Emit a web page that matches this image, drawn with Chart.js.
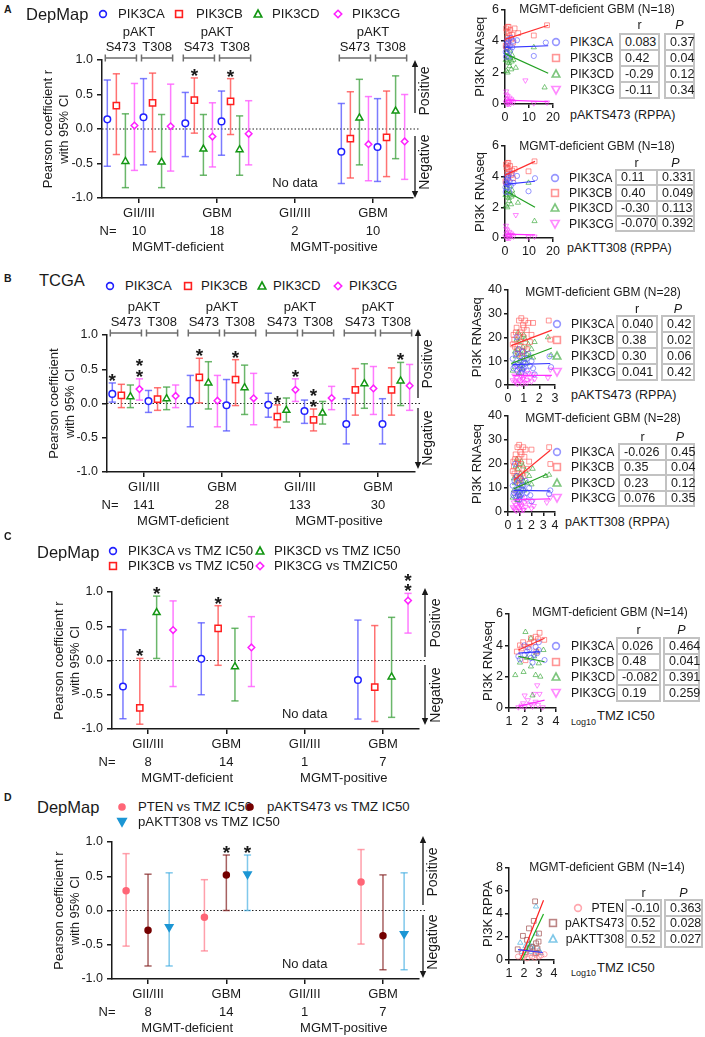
<!DOCTYPE html>
<html>
<head>
<meta charset="utf-8">
<title>PI3K / pAKT correlation panels</title>
<script src="https://cdn.jsdelivr.net/npm/chart.js@4.4.1/dist/chart.umd.min.js"></script>
<style>
  html, body { margin: 0; padding: 0; background: #fff; }
  #page { position: relative; width: 705px; height: 1037px; overflow: hidden;
          font-family: "Liberation Sans", Arial, Helvetica, sans-serif; color: #1a1a1a; }
  #page canvas { position: absolute; }
  .t { position: absolute; white-space: nowrap; line-height: 1; }
  .cell { position: absolute; box-sizing: border-box; border: 2px solid #c2c2c2; font-size: 12.5px;
          line-height: 1; display: flex; align-items: center; padding-left: 4px; white-space: nowrap; }
  .ic { position: absolute; width: 14px; height: 14px; }
</style>
</head>
<body>
<div id="page">
  <canvas id="chartA"></canvas>
  <canvas id="chartB"></canvas>
  <canvas id="chartC"></canvas>
  <canvas id="chartD"></canvas>
  <canvas id="sc1"></canvas>
  <canvas id="sc2"></canvas>
  <canvas id="sc3"></canvas>
  <canvas id="sc4"></canvas>
  <canvas id="sc5"></canvas>
  <canvas id="sc6"></canvas>
</div>
<script>
const FONT = '"Liberation Sans", Arial, Helvetica, sans-serif';

// ---------- forest plot data (rows = series, cols = the 4 groups) ----------
const groupLabels = ['GII/III', 'GBM', 'GII/III', 'GBM'];
const mgmtLabels = ['MGMT-deficient', 'MGMT-positive'];
const genes = ['PIK3CA', 'PIK3CB', 'PIK3CD', 'PIK3CG'];
const sites = ['S473', 'T308'];
const rTicks = [-1, -0.5, 0, 0.5, 1];

// A  DepMap
const nA = ['10', '18', '2', '10'];
const rA473  = [[0.14, 0.083, null, -0.33], [0.34, 0.42, null, -0.14], [-0.47, -0.29, null, 0.16], [0.05, -0.11, null, -0.22]];
const loA473 = [[-0.54, -0.40, null, -0.79], [-0.37, -0.06, null, -0.71], [-0.85, -0.67, null, -0.52], [-0.60, -0.55, null, -0.75]];
const hiA473 = [[0.71, 0.53, null, 0.37], [0.80, 0.74, null, 0.54], [0.22, 0.21, null, 0.72], [0.66, 0.38, null, 0.47]];
const rA308  = [[0.17, 0.11, null, -0.26], [0.38, 0.40, null, -0.12], [-0.48, -0.30, null, 0.26], [0.04, -0.07, null, -0.18]];
const loA308 = [[-0.52, -0.38, null, -0.76], [-0.33, -0.08, null, -0.69], [-0.85, -0.67, null, -0.43], [-0.61, -0.52, null, -0.73]];
const hiA308 = [[0.73, 0.55, null, 0.44], [0.81, 0.73, null, 0.55], [0.21, 0.19, null, 0.77], [0.65, 0.41, null, 0.50]];
const starsA = [[1, 1, 1], [1, 5, 1]];   // [group, series, number of stars]

// B  TCGA
const nB = ['141', '28', '133', '30'];
const rB473  = [[0.14, 0.04, -0.02, -0.30], [0.12, 0.38, -0.19, 0.20], [0.10, 0.30, -0.10, 0.29], [0.21, 0.041, 0.20, 0.22]];
const loB473 = [[0.02, -0.34, -0.20, -0.59], [-0.06, 0.01, -0.35, -0.17], [-0.06, -0.08, -0.27, -0.07], [0.05, -0.34, 0.03, -0.16]];
const hiB473 = [[0.30, 0.41, 0.15, 0.07], [0.28, 0.66, -0.02, 0.51], [0.27, 0.61, 0.08, 0.58], [0.36, 0.41, 0.36, 0.54]];
const rB308  = [[0.035, -0.026, -0.11, -0.30], [0.065, 0.35, -0.24, 0.20], [0.07, 0.23, -0.14, 0.33], [0.11, 0.076, 0.08, 0.26]];
const loB308 = [[-0.13, -0.40, -0.29, -0.59], [-0.10, -0.03, -0.40, -0.17], [-0.09, -0.16, -0.30, -0.03], [-0.06, -0.31, -0.09, -0.10]];
const hiB308 = [[0.19, 0.35, 0.05, 0.07], [0.23, 0.64, -0.08, 0.52], [0.24, 0.56, 0.03, 0.60], [0.27, 0.44, 0.25, 0.57]];
const starsB = [[0, 0, 1], [0, 3, 2], [1, 1, 1], [1, 5, 1], [2, 1, 1], [2, 3, 1], [2, 5, 2], [3, 6, 1]];

// C  DepMap, PI3K vs TMZ IC50
const nC = ['8', '14', '1', '7'];
const legendC = ['PIK3CA vs TMZ IC50', 'PIK3CB vs TMZ IC50', 'PIK3CD vs TMZ IC50', 'PIK3CG vs TMZIC50'];
const rC  = [[-0.38, 0.024, null, -0.285], [-0.69, 0.47, null, -0.39], [0.70, -0.09, null, -0.24], [0.445, 0.19, null, 0.875]];
const loC = [[-0.85, -0.50, null, -0.855], [-0.93, -0.07, null, -0.89], [0.03, -0.59, null, -0.83], [-0.38, -0.38, null, 0.40]];
const hiC = [[0.45, 0.55, null, 0.59], [0.03, 0.80, null, 0.51], [0.94, 0.47, null, 0.63], [0.87, 0.64, null, 0.98]];
const starsC = [[0, 1, 1], [0, 2, 1], [1, 1, 1], [3, 3, 2]];

// D  DepMap, PTEN / pAKT vs TMZ IC50
const nD = ['8', '14', '1', '7'];
const legendD = ['PTEN vs TMZ IC50', 'pAKTS473 vs TMZ IC50', 'pAKTT308 vs TMZ IC50'];
const rD  = [[0.29, -0.10, null, 0.415], [-0.29, 0.52, null, -0.37], [-0.24, 0.53, null, -0.34]];
const loD = [[-0.52, -0.59, null, -0.49], [-0.81, 0.0, null, -0.865], [-0.81, 0.0, null, -0.865]];
const hiD = [[0.83, 0.45, null, 0.89], [0.53, 0.81, null, 0.52], [0.55, 0.81, null, 0.55]];
const starsD = [[1, 1, 1], [1, 2, 1]];

// ---------- small scatter panels ----------
const s1CA = [[0.3,3.3],[0.5,3.6],[0.6,4.0],[0.8,3.2],[1.0,3.8],[1.2,3.5],[1.5,4.1],[1.8,3.0],[2.0,3.7],[2.2,3.4],[2.5,4.2],[3.0,3.6],[3.5,4.0],[5.0,4.05],[12,3.05],[17,3.9],[0.4,3.0],[1.3,3.9]];
const s1CB = [[0.3,3.7],[0.5,4.8],[0.7,4.6],[0.9,4.2],[1.1,4.9],[1.3,4.0],[1.6,4.5],[1.9,4.3],[2.2,4.7],[2.6,4.1],[3.0,4.4],[3.3,3.9],[4.0,4.8],[5.5,4.5],[12,4.35],[17.5,5.0],[0.6,3.6],[1.5,4.9]];
const s1CD = [[0.3,2.8],[0.5,2.1],[0.7,3.3],[0.9,2.7],[1.1,2.0],[1.4,3.0],[1.7,2.6],[2.0,3.4],[2.3,2.9],[2.6,2.2],[3.0,3.1],[3.5,2.8],[4.5,2.3],[12,3.6],[16.5,1.05],[0.8,3.5],[1.9,2.4],[2.8,2.7]];
const s1CG = [[0.3,0.1],[0.5,0.8],[0.7,0.3],[0.9,0.0],[1.1,0.5],[1.3,0.2],[1.6,0.1],[1.9,0.4],[2.2,0.0],[2.6,0.3],[3.0,0.2],[3.5,0.1],[8.5,1.5],[12,0.05],[17.5,0.1],[0.6,0.6],[1.4,0.0],[2.4,0.2]];
const s1Fit = [[[0,3.6],[18,3.7]], [[0,4.1],[18,5.0]], [[0,3.2],[18,1.95]], [[0,0.25],[18,0.15]]];

const s2CA = [[0.2,3.3],[0.4,3.6],[0.6,4.0],[0.8,3.2],[1.0,3.8],[1.2,3.5],[1.5,4.1],[1.8,3.0],[2.0,3.7],[2.4,3.4],[2.8,4.2],[3.5,3.6],[5.0,4.05],[9.8,3.05],[12.5,3.9],[0.3,3.0],[1.3,3.9],[0.9,3.5]];
const s2CB = [[0.2,3.7],[0.4,4.8],[0.6,4.6],[0.8,4.2],[1.0,4.9],[1.2,4.0],[1.5,4.5],[1.8,4.3],[2.1,4.7],[2.5,4.1],[3.0,4.4],[3.3,3.9],[4.0,4.5],[9.8,4.35],[12.3,5.0],[0.5,3.6],[1.4,4.9],[0.9,4.6]];
const s2CD = [[0.2,2.8],[0.4,2.1],[0.6,3.3],[0.8,2.7],[1.0,2.0],[1.3,3.0],[1.6,2.6],[1.9,3.4],[2.2,2.9],[2.5,2.2],[3.0,3.1],[3.5,2.8],[5.4,2.3],[9.8,3.6],[12.3,1.1],[0.7,3.5],[1.7,2.4],[2.7,2.7]];
const s2CG = [[0.2,0.1],[0.4,0.8],[0.6,0.3],[0.8,0.0],[1.0,0.5],[1.2,0.2],[1.5,0.1],[1.8,0.4],[2.1,0.0],[2.5,0.3],[3.0,0.2],[3.5,0.1],[4.5,1.5],[9.8,0.05],[12.3,0.1],[0.5,0.6],[1.3,0.0],[2.3,0.2]];
const s2Fit = [[[0,3.5],[12.5,3.7]], [[0,4.1],[12.5,5.0]], [[0,3.1],[12.5,2.0]], [[0,0.25],[12.5,0.2]]];

const s3CA = [[0.3,11],[0.45,8],[0.55,20],[0.6,6],[0.65,9],[0.7,12],[0.75,7],[0.8,10],[0.85,5],[0.9,8],[0.95,14],[1.0,7],[1.05,11],[1.1,9],[1.2,6],[1.3,13],[1.4,8],[1.5,10],[1.7,4.5],[0.5,13],[0.7,15],[0.9,6.5],[1.0,9.5],[1.2,11],[2.65,12],[2.75,7.5],[0.35,7],[1.6,7]];
const s3CB = [[0.3,17],[0.4,19],[0.5,22],[0.55,24],[0.6,15],[0.7,27],[0.75,21],[0.8,18],[0.85,28],[0.9,14],[0.95,25],[1.0,20],[1.05,16],[1.1,27],[1.2,23],[1.3,26],[1.4,18],[1.5,21],[0.65,13],[0.9,12],[1.0,24],[1.2,15],[0.45,16],[0.8,22],[2.6,27],[2.7,19],[1.6,26],[0.35,21]];
const s3CD = [[0.3,6],[0.4,9],[0.5,12],[0.6,15],[0.65,22],[0.7,18],[0.75,10],[0.8,13],[0.85,20],[0.9,7],[0.95,16],[1.0,11],[1.05,14],[1.1,19],[1.2,9],[1.3,17],[1.4,12],[1.5,15],[1.6,11.5],[0.55,19],[0.8,8],[1.0,21],[1.2,13],[0.7,5],[2.55,20],[2.75,12.5],[0.45,14],[1.7,18]];
const s3CG = [[0.3,2],[0.4,4],[0.5,1],[0.55,3],[0.6,0.5],[0.65,5],[0.7,2],[0.75,7],[0.8,1.5],[0.85,3.5],[0.9,0.5],[0.95,2.5],[1.0,6],[1.05,1],[1.1,4],[1.2,2],[1.3,5],[1.4,3],[1.5,1.5],[1.6,4.5],[0.5,8],[0.8,4],[1.0,3],[1.2,0.8],[2.7,6.5],[2.55,3],[0.45,1.5],[1.7,2.5]];
const s3Fit = [[[0.3,8.5],[2.7,9]], [[0.2,16.5],[2.8,23]], [[0.2,9],[2.8,15.5]], [[0.3,4],[2.8,4]]];

const s4CA = [[0.4,11],[0.5,8],[0.6,20],[0.65,6],[0.7,9],[0.8,12],[0.85,7],[0.9,10],[0.95,5],[1.0,8],[1.05,14],[1.1,7],[1.2,11],[1.3,9],[1.4,6],[1.5,13],[1.6,8],[1.8,10],[2.0,4.5],[0.55,13],[0.75,15],[1.0,6.5],[1.15,9.5],[1.3,11],[3.6,9],[3.5,7.5],[0.45,7],[1.9,7]];
const s4CB = [[0.4,17],[0.5,19],[0.6,22],[0.65,24],[0.7,15],[0.8,27],[0.85,21],[0.9,18],[0.95,28],[1.0,14],[1.05,25],[1.1,20],[1.2,16],[1.3,27],[1.4,23],[1.5,26],[1.6,18],[1.8,21],[0.75,13],[1.0,12],[1.15,24],[1.3,15],[0.55,16],[0.9,22],[3.5,27],[3.6,20],[2.0,26],[0.45,21]];
const s4CD = [[0.4,6],[0.5,9],[0.6,12],[0.7,15],[0.75,22],[0.8,18],[0.85,10],[0.9,13],[0.95,20],[1.0,7],[1.05,16],[1.1,11],[1.2,14],[1.3,19],[1.4,9],[1.5,17],[1.6,12],[1.8,15],[2.0,11.5],[0.65,19],[0.9,8],[1.15,21],[1.3,13],[0.8,5],[3.2,15],[3.5,15.5],[0.5,14],[2.1,18]];
const s4CG = [[0.4,2],[0.5,4],[0.6,1],[0.65,3],[0.7,0.5],[0.8,5],[0.85,2],[0.9,7],[0.95,1.5],[1.0,3.5],[1.05,0.5],[1.1,2.5],[1.2,6],[1.3,1],[1.4,4],[1.5,2],[1.6,5],[1.8,3],[2.0,1.5],[2.1,4.5],[0.6,8],[0.9,4],[1.15,3],[1.3,0.8],[3.6,6],[3.3,4],[0.5,1.5],[2.2,2.5]];
const s4Fit = [[[0.5,9],[3.6,8.8]], [[0.5,13.2],[3.6,25.7]], [[0.5,9.7],[3.3,15.7]], [[0.5,5.1],[3.6,5.5]]];

const s5CA = [[1.6,3.3],[1.98,4.0],[2.15,3.6],[2.7,3.9],[2.9,4.2],[2.9,3.7],[3.27,3.06],[2.4,3.2],[2.0,3.4],[2.5,2.9],[2.8,3.5],[1.7,3.1],[2.3,3.75],[2.6,3.4]];
const s5CB = [[1.5,3.6],[1.9,4.2],[2.4,4.45],[2.7,4.55],[2.95,4.8],[3.25,4.35],[2.2,3.9],[2.6,4.2],[2.05,3.05],[1.8,3.8],[2.85,4.4],[2.3,4.1],[1.7,4.0],[2.75,3.6]];
const s5CD = [[2.05,4.85],[1.4,2.1],[1.93,2.3],[2.4,2.65],[2.7,2.1],[2.9,2.85],[2.4,4.45],[2.8,3.6],[3.2,3.7],[2.15,3.2],[2.5,0.8],[1.7,2.9],[2.6,3.3],[3.0,2.0]];
const s5CG = [[2.8,1.45],[2.0,0.8],[2.6,0.9],[2.95,0.9],[1.6,0.05],[2.0,0.05],[2.4,0.25],[2.7,0.4],[3.15,0.05],[1.8,0.15],[2.2,0.5],[2.5,0.1],[2.85,0.2],[1.9,0.3]];
const s5Fit = [[[1.6,3.5],[2.95,3.6]], [[1.6,3.7],[3.27,4.45]], [[1.6,3.3],[3.27,2.95]], [[1.6,0.1],[3.27,0.5]]];

const s6PTEN = [[1.6,0.3],[2.1,0.45],[2.45,0.6],[2.8,0.45],[3.0,0.3],[3.37,0.5],[2.2,0.15],[2.55,0.3],[2.9,0.75],[1.85,0.6],[2.3,0.9],[2.7,0.2],[3.15,0.4],[2.0,0.25]];
const s6S473 = [[1.58,0.93],[1.93,2.1],[2.2,1.75],[2.33,2.75],[2.55,1.15],[2.74,5.1],[2.8,1.45],[2.97,1.6],[3.0,2.3],[2.8,0.6],[2.4,1.0],[2.1,0.7],[2.65,3.4],[2.9,1.0]];
const s6T308 = [[1.75,1.5],[2.8,4.65],[2.8,2.3],[2.2,1.0],[2.45,0.7],[2.55,1.15],[3.0,0.85],[1.85,0.7],[2.1,1.2],[2.7,0.5],[2.35,1.4],[2.95,0.6],[2.6,0.9],[3.1,0.6]];
const s6Fit = [[[1.6,0.9],[3.25,0.65]], [[1.75,0],[3.3,5.2]], [[1.86,0],[3.3,4.0]]];

// tables next to the scatter panels
const tab1R = ['0.083', '0.42', '-0.29', '-0.11'],   tab1P = ['0.37', '0.04', '0.12', '0.34'];
const tab2R = ['0.11', '0.40', '-0.30', '-0.070'],   tab2P = ['0.331', '0.049', '0.113', '0.392'];
const tab3R = ['0.040', '0.38', '0.30', '0.041'],    tab3P = ['0.42', '0.02', '0.06', '0.42'];
const tab4R = ['-0.026', '0.35', '0.23', '0.076'],   tab4P = ['0.45', '0.04', '0.12', '0.35'];
const tab5R = ['0.026', '0.48', '-0.082', '0.19'],   tab5P = ['0.464', '0.041', '0.391', '0.259'];
const tab6Names = ['PTEN', 'pAKTS473', 'pAKTT308'];
const tab6R = ['-0.10', '0.52', '0.52'],             tab6P = ['0.363', '0.028', '0.027'];

// ---------- styles ----------
const geneStyle = [
  { shape: 'circle',   size: 3.3, color: '#2020ff', fill: '#fff', bar: 'rgba(80,80,255,0.75)' },
  { shape: 'rect',     size: 4.4, color: '#ff1f1f', fill: '#fff', bar: 'rgba(255,80,80,0.8)' },
  { shape: 'triangle', size: 4.0, color: '#139613', fill: '#fff', bar: 'rgba(70,165,70,0.8)' },
  { shape: 'rectRot',  size: 3.3, color: '#ff1fff', fill: '#fff', bar: 'rgba(255,90,255,0.8)' }
];
const dStyle = [
  { shape: 'circle',   size: 3.0, color: '#ff6677', fill: '#ff6677', bar: 'rgba(255,120,135,0.7)' },
  { shape: 'circle',   size: 3.0, color: '#750000', fill: '#750000', bar: 'rgba(130,30,30,0.7)' },
  { shape: 'triangle', size: 4.3, color: '#1c96d4', fill: '#1c96d4', bar: 'rgba(60,170,225,0.65)', rot: 180 }
];
const scStyle = [
  { shape: 'circle',   size: 2.6, color: 'rgba(80,80,255,0.6)',  line: '#3535ff' },
  { shape: 'rect',     size: 3.4, color: 'rgba(255,80,80,0.6)',  line: '#ff3030' },
  { shape: 'triangle', size: 3.0, color: 'rgba(40,160,40,0.6)',  line: '#22a022' },
  { shape: 'triangle', size: 3.0, color: 'rgba(255,60,255,0.6)', line: '#ff30ff', rot: 180 }
];
const sc6Style = [
  { shape: 'circle',   size: 2.6, color: 'rgba(255,120,130,0.65)' },
  { shape: 'rect',     size: 3.4, color: 'rgba(160,80,80,0.7)' },
  { shape: 'triangle', size: 3.0, color: 'rgba(60,170,220,0.65)' }
];
const sc6Lines = ['#3535ff', '#ff2020', '#20b020'];

const offsAB = [0, 1, 2, 3, 4, 5, 6, 7].map(i => (i - 3.5) * 0.116);
const offsC = [-0.32, -0.105, 0.11, 0.32];
const offsD = [-0.28, 0, 0.27];

// ---------- html helpers ----------
const page = document.getElementById('page');

function label(text, x, y, size, opt = {}) {
  const el = document.createElement('div');
  el.className = 't';
  el.textContent = text;
  el.style.fontSize = size + 'px';
  el.style.left = x + 'px';
  el.style.top = y + 'px';
  const ax = opt.align === 'center' ? '-50%' : opt.align === 'right' ? '-100%' : '0';
  el.style.transform = 'translate(' + ax + ', -50%)';
  if (opt.bold) el.style.fontWeight = 'bold';
  if (opt.italic) el.style.fontStyle = 'italic';
  if (opt.color) el.style.color = opt.color;
  page.appendChild(el);
  return el;
}

function icon(shape, x, y, stroke, fill) {
  const d = document.createElement('div');
  d.className = 'ic';
  d.style.left = (x - 7) + 'px';
  d.style.top = (y - 7) + 'px';
  const a = 'fill="' + fill + '" stroke="' + stroke + '" stroke-width="1.6"';
  let s = '';
  if (shape === 'circle') s = '<circle cx="7" cy="7" r="3.4" ' + a + '/>';
  if (shape === 'dot') s = '<circle cx="7" cy="7" r="3" ' + a + '/>';
  if (shape === 'rect') s = '<rect x="3.6" y="3.6" width="6.8" height="6.8" ' + a + '/>';
  if (shape === 'triangle') s = '<polygon points="7,3 10.8,10 3.2,10" ' + a + '/>';
  if (shape === 'tridown') s = '<polygon points="2.8,3.5 11.2,3.5 7,11" ' + a + '/>';
  if (shape === 'diamond') s = '<polygon points="7,3.3 10.7,7 7,10.7 3.3,7" ' + a + '/>';
  d.innerHTML = '<svg width="14" height="14" viewBox="0 0 14 14">' + s + '</svg>';
  page.appendChild(d);
}

function cell(text, bx, top, h) {
  const el = document.createElement('div');
  el.className = 'cell';
  el.style.left = bx[0] + 'px';
  el.style.top = top + 'px';
  el.style.width = (bx[1] - bx[0]) + 'px';
  el.style.height = (h + 2) + 'px';
  el.textContent = text;
  page.appendChild(el);
}

function table(t) {
  label('r', (t.rBox[0] + t.rBox[1]) / 2, t.headY, 12.5, { align: 'center' });
  label('P', (t.pBox[0] + t.pBox[1]) / 2, t.headY, 12.5, { align: 'center', italic: true });
  t.names.forEach((nm, i) => {
    const top = t.top + i * t.rowH;
    const cy = top + t.rowH / 2 + 1;
    label(nm, t.nameX, cy, 12.2, { align: t.nameAlign || 'left' });
    cell(t.r[i], t.rBox, top, t.rowH);
    cell(t.p[i], t.pBox, top, t.rowH);
    if (t.icons) icon(t.icons[i][0], t.iconX[i], cy, t.icons[i][1], 'none');
  });
}

// ---------- forest plots ----------
function forestSets(r, lo, hi, offs, styles) {
  const sets = [];
  r.forEach((row, s) => {
    const st = styles[s];
    const bars = [], pts = [];
    row.forEach((v, g) => {
      if (v === null) return;
      const x = g + 1 + offs[s];
      bars.push({ x, y: lo[s][g] }, { x, y: hi[s][g] }, { x, y: null });
      pts.push({ x, y: v });
    });
    sets.push({ data: bars, order: 2, showLine: true, spanGaps: false, borderColor: st.bar, borderWidth: 1.5,
      pointStyle: 'line', pointRadius: 3.6, pointBorderColor: st.bar, pointBorderWidth: 1.5, clip: false });
    sets.push({ data: pts, order: 1, pointStyle: st.shape, pointRadius: st.size, pointRotation: st.rot || 0,
      borderColor: st.color, backgroundColor: st.fill, borderWidth: 1.5, clip: false });
  });
  return sets;
}

function decor(d, box) {
  const px = v => v - box.x, py = v => v - box.y;
  return {
    id: 'decor',
    beforeDatasetsDraw(chart) {
      const { ctx, chartArea: a, scales: { y } } = chart;
      const y0 = y.getPixelForValue(0);
      ctx.save();
      ctx.setLineDash([1.5, 2]);
      ctx.strokeStyle = '#222';
      ctx.lineWidth = 1.2;
      ctx.beginPath();
      ctx.moveTo(a.left, y0);
      ctx.lineTo(a.right + 6, y0);
      ctx.stroke();
      ctx.restore();
    },
    afterDraw(chart) {
      const { ctx, chartArea: a, scales: { x, y } } = chart;
      ctx.save();
      ctx.fillStyle = '#1a1a1a';
      ctx.textAlign = 'center';

      // significance stars
      ctx.font = 'bold 19px ' + FONT;
      ctx.textBaseline = 'alphabetic';
      d.stars.forEach(([g, s, n]) => {
        const sx = x.getPixelForValue(g + 1 + d.offs[s]);
        const top = y.getPixelForValue(d.hi[s][g]);
        for (let k = 0; k < n; k++) ctx.fillText('*', sx, top - 7 - k * 10.5 + 11);
      });

      // pAKT S473 / T308 brackets
      ctx.font = '13px ' + FONT;
      ctx.textBaseline = 'middle';
      (d.brackets || []).forEach(g => {
        const by = a.top - 2;
        [0, 1].forEach(site => {
          const x0 = x.getPixelForValue(g + 1 + d.offs[site * 4]) - 2;
          const x1 = x.getPixelForValue(g + 1 + d.offs[site * 4 + 3]) + 2;
          ctx.strokeStyle = '#6e6e6e';
          ctx.lineWidth = 1.5;
          ctx.beginPath();
          ctx.moveTo(x0, by); ctx.lineTo(x1, by);
          ctx.moveTo(x0, by - 3.5); ctx.lineTo(x0, by + 3.5);
          ctx.moveTo(x1, by - 3.5); ctx.lineTo(x1, by + 3.5);
          ctx.stroke();
          ctx.fillText(sites[site], (x0 + x1) / 2, by - 11);
        });
        ctx.fillText('pAKT', x.getPixelForValue(g + 1), by - 26);
      });

      // rows under the x axis
      const nY = a.bottom + 33, mY = a.bottom + 49;
      ctx.fillText('N=', px(d.nX), nY);
      d.n.forEach((s, g) => ctx.fillText(s, x.getPixelForValue(g + 1), nY));
      ctx.fillText(mgmtLabels[0], (x.getPixelForValue(1) + x.getPixelForValue(2)) / 2, mY);
      ctx.fillText(mgmtLabels[1], (x.getPixelForValue(3) + x.getPixelForValue(4)) / 2, mY);
      if (d.noData) ctx.fillText('No data', x.getPixelForValue(3), a.bottom - 15);

      // Positive / Negative arrows
      const ar = d.arrow, ax = px(ar.x);
      ctx.strokeStyle = '#1a1a1a';
      ctx.lineWidth = 1.3;
      ctx.beginPath();
      ctx.moveTo(ax, py(ar.top) + 5); ctx.lineTo(ax, py(ar.m1));
      ctx.moveTo(ax, py(ar.m2)); ctx.lineTo(ax, py(ar.bot) - 5);
      ctx.stroke();
      ctx.beginPath();
      ctx.moveTo(ax, py(ar.top)); ctx.lineTo(ax - 3.2, py(ar.top) + 7); ctx.lineTo(ax + 3.2, py(ar.top) + 7);
      ctx.closePath();
      ctx.moveTo(ax, py(ar.bot)); ctx.lineTo(ax - 3.2, py(ar.bot) - 7); ctx.lineTo(ax + 3.2, py(ar.bot) - 7);
      ctx.closePath();
      ctx.fill();
      ctx.font = '14px ' + FONT;
      [['Positive', ar.pos], ['Negative', ar.neg]].forEach(([t, cy]) => {
        ctx.save();
        ctx.translate(px(ar.tx), py(cy));
        ctx.rotate(-Math.PI / 2);
        ctx.fillText(t, 0, 0);
        ctx.restore();
      });
      ctx.restore();
    }
  };
}

function forest(id, box, area, xr, sets, d) {
  const cv = document.getElementById(id);
  cv.width = box.w; cv.height = box.h;
  cv.style.left = box.x + 'px'; cv.style.top = box.y + 'px';
  const axisCol = '#1a1a1a';
  new Chart(cv, {
    type: 'scatter',
    data: { datasets: sets },
    options: {
      responsive: false, animation: false, devicePixelRatio: 1,
      layout: { padding: { left: 0, top: area.t - box.y, right: box.x + box.w - area.r, bottom: 0 } },
      plugins: { legend: { display: false }, tooltip: { enabled: false } },
      scales: {
        x: {
          type: 'linear', min: xr[0], max: xr[1],
          afterBuildTicks: s => { s.ticks = [1, 2, 3, 4].map(v => ({ value: v })); },
          afterFit: s => { s.height = box.y + box.h - area.b; },
          ticks: { callback: v => groupLabels[Math.round(v) - 1], font: { size: 13 }, color: axisCol, padding: 3, maxRotation: 0, autoSkip: false },
          grid: { drawOnChartArea: false, tickLength: 5, color: axisCol, lineWidth: 1.5 },
          border: { color: axisCol, width: 1.5 }
        },
        y: {
          min: -1, max: 1,
          afterBuildTicks: s => { s.ticks = rTicks.map(v => ({ value: v })); },
          afterFit: s => { s.width = area.l - box.x; },
          ticks: { callback: v => v.toFixed(1), font: { size: 12.5 }, color: axisCol, padding: 4 },
          grid: { drawOnChartArea: false, tickLength: 5, color: axisCol, lineWidth: 1.5 },
          border: { color: axisCol, width: 1.5 },
          title: { display: true, text: d.ytitle, color: axisCol, font: { size: 13, lineHeight: 1.2 }, padding: { top: d.ytPad } }
        }
      }
    },
    plugins: [decor(d, box)]
  });
}

// ---------- scatter panels ----------
function scatterSets(pts, fits, styles, lineCols) {
  const sets = [];
  fits.forEach((f, i) => sets.push({ data: f.map(([x, y]) => ({ x, y })), showLine: true, order: 0,
    borderColor: lineCols[i], borderWidth: 1.2, pointRadius: 0, clip: false }));
  pts.forEach((p, i) => sets.push({ data: p.map(([x, y]) => ({ x, y })), order: 1,
    pointStyle: styles[i].shape, pointRotation: styles[i].rot || 0, pointRadius: styles[i].size,
    borderColor: styles[i].color, backgroundColor: 'rgba(0,0,0,0)', borderWidth: 1, clip: false }));
  return sets;
}

function scatterPanel(id, box, area, xr, xt, yr, yt, ytitle, ytPad, sets) {
  const cv = document.getElementById(id);
  cv.width = box.w; cv.height = box.h;
  cv.style.left = box.x + 'px'; cv.style.top = box.y + 'px';
  const axisCol = '#1a1a1a';
  new Chart(cv, {
    type: 'scatter',
    data: { datasets: sets },
    options: {
      responsive: false, animation: false, devicePixelRatio: 1,
      layout: { padding: { left: 0, top: area.t - box.y, right: box.x + box.w - area.r, bottom: 0 } },
      plugins: { legend: { display: false }, tooltip: { enabled: false } },
      scales: {
        x: {
          type: 'linear', min: xr[0], max: xr[1],
          afterBuildTicks: s => { s.ticks = xt.map(v => ({ value: v })); },
          afterFit: s => { s.height = box.y + box.h - area.b; },
          ticks: { font: { size: 12.5 }, color: axisCol, padding: 2, maxRotation: 0, autoSkip: false },
          grid: { drawOnChartArea: false, tickLength: 4, color: axisCol, lineWidth: 1.5 },
          border: { color: axisCol, width: 1.5 }
        },
        y: {
          min: yr[0], max: yr[1],
          afterBuildTicks: s => { s.ticks = yt.map(v => ({ value: v })); },
          afterFit: s => { s.width = area.l - box.x; },
          ticks: { font: { size: 12.5 }, color: axisCol, padding: 2 },
          grid: { drawOnChartArea: false, tickLength: 4, color: axisCol, lineWidth: 1.5 },
          border: { color: axisCol, width: 1.5 },
          title: { display: true, text: ytitle, color: axisCol, font: { size: 13 }, padding: { top: ytPad } }
        }
      }
    }
  });
}

// ---------- panel A ----------
label('A', 4, 9, 10.5, { bold: true });
label('DepMap', 26, 14, 16.5);
[['circle', 103, 118], ['rect', 179, 196], ['triangle', 258, 272], ['diamond', 338, 352]].forEach(([sh, ix, tx], i) => {
  icon(sh, ix, 14, geneStyle[i].color, '#fff');
  label(genes[i], tx, 14, 13.2);
});
forest('chartA', { x: 0, y: 20, w: 450, h: 240 }, { l: 102, t: 60, r: 413, b: 198 }, [0.526, 4.513],
  forestSets([...rA473, ...rA308], [...loA473, ...loA308], [...hiA473, ...hiA308], offsAB, [...geneStyle, ...geneStyle]),
  { ytitle: ['Pearson coefficient r', 'with 95% CI'], ytPad: 41, n: nA, nX: 108, stars: starsA,
    hi: [...hiA473, ...hiA308], offs: offsAB, brackets: [0, 1, 3], noData: true,
    arrow: { x: 415, top: 60, m1: 113, m2: 136, bot: 198, tx: 425, pos: 91, neg: 162 } });

// ---------- panel B ----------
label('B', 4, 278, 10.5, { bold: true });
label('TCGA', 39, 280, 16.5);
[['circle', 110, 125], ['rect', 188, 201], ['triangle', 262, 273], ['diamond', 338, 349]].forEach(([sh, ix, tx], i) => {
  icon(sh, ix, 286, geneStyle[i].color, '#fff');
  label(genes[i], tx, 286, 13.2);
});
forest('chartB', { x: 0, y: 295, w: 450, h: 235 }, { l: 107, t: 335, r: 415, b: 472 }, [0.526, 4.475],
  forestSets([...rB473, ...rB308], [...loB473, ...loB308], [...hiB473, ...hiB308], offsAB, [...geneStyle, ...geneStyle]),
  { ytitle: ['Pearson coefficient', 'with 95% CI'], ytPad: 47, n: nB, nX: 110, stars: starsB,
    hi: [...hiB473, ...hiB308], offs: offsAB, brackets: [0, 1, 2, 3], noData: false,
    arrow: { x: 418, top: 329, m1: 398, m2: 408, bot: 469, tx: 428, pos: 364, neg: 438 } });

// ---------- panel C ----------
label('C', 4, 536, 10.5, { bold: true });
label('DepMap', 37, 552, 16.5);
[['circle', 113, 128, 551], ['rect', 113, 128, 566], ['triangle', 260, 274, 551], ['diamond', 260, 274, 566]].forEach(([sh, ix, tx, ty], i) => {
  icon(sh, ix, ty, geneStyle[i].color, '#fff');
  label(legendC[i], tx, ty, 13.2);
});
forest('chartC', { x: 0, y: 560, w: 450, h: 228 }, { l: 112, t: 592, r: 419, b: 729 }, [0.54, 4.46],
  forestSets(rC, loC, hiC, offsC, geneStyle),
  { ytitle: ['Pearson coefficient r', 'with 95% CI'], ytPad: 52, n: nC, nX: 107, stars: starsC,
    hi: hiC, offs: offsC, brackets: [], noData: true,
    arrow: { x: 425, top: 588, m1: 657, m2: 665, bot: 725, tx: 436, pos: 623, neg: 695 } });

// ---------- panel D ----------
label('D', 4, 797, 10.5, { bold: true });
label('DepMap', 37, 807, 16.5);
[['dot', 122, 138, 807], ['dot', 250, 267, 807], ['tridown', 122, 138, 822]].forEach(([sh, ix, tx, ty], i) => {
  icon(sh, ix, ty, dStyle[i].color, dStyle[i].color);
  label(legendD[i], tx, ty, 13.2);
});
forest('chartD', { x: 0, y: 828, w: 450, h: 209 }, { l: 112, t: 842, r: 419, b: 979 }, [0.54, 4.46],
  forestSets(rD, loD, hiD, offsD, dStyle),
  { ytitle: ['Pearson coefficient r', 'with 95% CI'], ytPad: 52, n: nD, nX: 107, stars: starsD,
    hi: hiD, offs: offsD, brackets: [], noData: true,
    arrow: { x: 423, top: 836, m1: 905, m2: 915, bot: 978, tx: 433, pos: 872, neg: 942 } });

// ---------- right-hand scatter panels ----------
const iconsGene = [['circle', scStyle[0].color], ['rect', scStyle[1].color], ['triangle', scStyle[2].color], ['tridown', scStyle[3].color]];
const lineCols = scStyle.map(s => s.line);

scatterPanel('sc1', { x: 465, y: 0, w: 100, h: 125 }, { l: 505, t: 7, r: 553, b: 104 }, [0, 20], [0, 10, 20], [0, 6], [0, 2, 4, 6],
  'PI3K RNAseq', 8, scatterSets([s1CA, s1CB, s1CD, s1CG], s1Fit, scStyle, lineCols));
label('MGMT-deficient GBM (N=18)', 597, 9, 12, { align: 'center' });
label('pAKTS473 (RPPA)', 570, 115, 12.5);
table({ headY: 25, top: 33, rowH: 16, names: genes, r: tab1R, p: tab1P, nameX: 570, rBox: [619, 660], pBox: [664, 695],
  icons: iconsGene, iconX: [556, 556, 556, 556] });

scatterPanel('sc2', { x: 465, y: 135, w: 100, h: 125 }, { l: 505, t: 146, r: 553, b: 238 }, [0, 20], [0, 10, 20], [0, 6], [0, 2, 4, 6],
  'PI3K RNAseq', 8, scatterSets([s2CA, s2CB, s2CD, s2CG], s2Fit, scStyle, lineCols));
label('MGMT-deficient GBM (N=18)', 597, 146, 12, { align: 'center' });
label('pAKTT308 (RPPA)', 567, 248, 12.5);
table({ headY: 163, top: 169, rowH: 15.3, names: genes, r: tab2R, p: tab2P, nameX: 569, rBox: [615, 658], pBox: [656, 695],
  icons: iconsGene, iconX: [555, 555, 555, 555] });

scatterPanel('sc3', { x: 465, y: 280, w: 100, h: 125 }, { l: 508, t: 289, r: 555, b: 385 }, [0, 3], [0, 1, 2, 3], [0, 40], [0, 10, 20, 30, 40],
  'PI3K RNAseq', 5, scatterSets([s3CA, s3CB, s3CD, s3CG], s3Fit, scStyle, lineCols));
label('MGMT-deficient GBM (N=28)', 603, 292, 12, { align: 'center' });
label('pAKTS473 (RPPA)', 571, 395, 12.5);
table({ headY: 309, top: 315, rowH: 16, names: genes, r: tab3R, p: tab3P, nameX: 571, rBox: [616, 658], pBox: [661, 695],
  icons: iconsGene, iconX: [557, 557, 557, 557] });

scatterPanel('sc4', { x: 465, y: 405, w: 100, h: 125 }, { l: 508, t: 416, r: 555, b: 512 }, [0, 4], [0, 1, 2, 3, 4], [0, 40], [0, 10, 20, 30, 40],
  'PI3K RNAseq', 5, scatterSets([s4CA, s4CB, s4CD, s4CG], s4Fit, scStyle, lineCols));
label('MGMT-deficient GBM (N=28)', 603, 418, 12, { align: 'center' });
label('pAKTT308 (RPPA)', 565, 522, 12.5);
table({ headY: 437, top: 443, rowH: 15.5, names: genes, r: tab4R, p: tab4P, nameX: 571, rBox: [618, 667], pBox: [665, 695],
  icons: iconsGene, iconX: [557, 557, 557, 557] });

scatterPanel('sc5', { x: 465, y: 600, w: 100, h: 125 }, { l: 509, t: 614, r: 556, b: 708 }, [1, 4], [1, 2, 3, 4], [0, 6], [0, 2, 4, 6],
  'PI3K RNAseq', 16, scatterSets([s5CA, s5CB, s5CD, s5CG], s5Fit, scStyle, lineCols));
label('MGMT-deficient GBM (N=14)', 610, 612, 12, { align: 'center' });
label('Log10', 571, 722, 9);
label('TMZ IC50', 597, 715, 13);
table({ headY: 630, top: 637, rowH: 15.75, names: genes, r: tab5R, p: tab5P, nameX: 571, rBox: [616, 661], pBox: [663, 700],
  icons: iconsGene, iconX: [556, 556, 556, 556] });

scatterPanel('sc6', { x: 465, y: 855, w: 100, h: 125 }, { l: 509, t: 868, r: 554, b: 960 }, [1, 4], [1, 2, 3, 4], [0, 8], [0, 2, 4, 6, 8],
  'PI3K RPPA', 16, scatterSets([s6PTEN, s6S473, s6T308], s6Fit, sc6Style, sc6Lines));
label('MGMT-deficient GBM (N=14)', 607, 867, 12, { align: 'center' });
label('Log10', 571, 973, 9);
label('TMZ IC50', 597, 967, 13);
table({ headY: 893, top: 899, rowH: 15.5, names: tab6Names, r: tab6R, p: tab6P, nameX: 624, nameAlign: 'right',
  rBox: [625, 662], pBox: [664, 703],
  icons: [['circle', sc6Style[0].color], ['rect', sc6Style[1].color], ['triangle', sc6Style[2].color]], iconX: [578, 553, 553] });
</script>
</body>
</html>
